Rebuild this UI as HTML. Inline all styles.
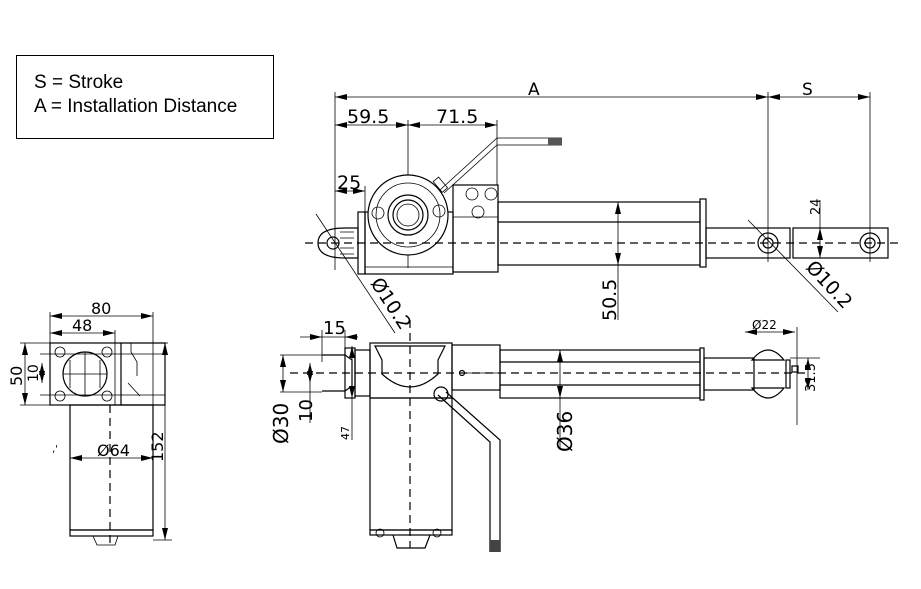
<!DOCTYPE html>
<html><head><style>
body{margin:0;background:#fff;}
svg{display:block;font-family:"DejaVu Sans","Liberation Sans",sans-serif;}
.l{stroke:#000;stroke-width:1.2;fill:none}
.t{stroke:#000;stroke-width:0.8;fill:none}
.d{stroke:#000;stroke-width:1.2;stroke-dasharray:8,5;fill:none}
.w{stroke:#000;stroke-width:1.2;fill:#fff}
text{fill:#000}
</style></head><body>
<svg width="921" height="589" viewBox="0 0 921 589">
<defs>
<marker id="a" markerWidth="12" markerHeight="6" refX="12" refY="3" orient="auto-start-reverse" markerUnits="userSpaceOnUse"><path d="M0,0 L12,3 L0,6z" fill="#000"/></marker>
</defs>
<rect x="16.5" y="55.5" width="257" height="83" class="l" style="stroke-width:1"/>
<text x="34" y="88" font-family="Liberation Sans" font-size="19">S = Stroke</text>
<text x="34" y="112" font-family="Liberation Sans" font-size="19">A = Installation Distance</text>

<g font-size="19">
<line x1="335" y1="97" x2="768" y2="97" class="t" marker-start="url(#a)" marker-end="url(#a)"/>
<line x1="768" y1="97" x2="870" y2="97" class="t" marker-start="url(#a)" marker-end="url(#a)"/>
<text x="528" y="95" font-size="17">A</text><text x="802" y="95" font-size="17">S</text>
<line x1="335" y1="92" x2="335" y2="270" class="t"/>
<line x1="768" y1="92" x2="768" y2="262" class="t"/>
<line x1="870" y1="92" x2="870" y2="262" class="t"/>
<line x1="335" y1="125" x2="408" y2="125" class="t" marker-start="url(#a)" marker-end="url(#a)"/>
<line x1="408" y1="125" x2="497" y2="125" class="t" marker-start="url(#a)" marker-end="url(#a)"/>
<text x="347" y="123">59.5</text><text x="436" y="123">71.5</text>
<line x1="408" y1="120" x2="408" y2="268" class="t"/>
<line x1="497" y1="120" x2="497" y2="185" class="t"/>
<line x1="335" y1="191" x2="365" y2="191" class="t" marker-start="url(#a)" marker-end="url(#a)"/>
<text x="337" y="189">25</text>
<line x1="365" y1="186" x2="365" y2="212" class="t"/>
<path d="M440,190 L497,138 L562,138 M444,193 L497,145 L562,145" class="t"/>
<rect x="548" y="138" width="14" height="7" fill="#555"/>
<rect x="358" y="212" width="7" height="62" class="l"/>
<rect x="365" y="212" width="88" height="62" class="l"/>
<line x1="365" y1="267" x2="453" y2="267" class="t"/>
<rect x="453" y="185" width="45" height="87" class="l"/>
<line x1="453" y1="217" x2="498" y2="217" class="t"/>
<circle cx="408" cy="215" r="40" class="w"/>
<circle cx="408" cy="215" r="32" class="t"/>
<circle cx="408" cy="215" r="20" class="l"/>
<circle cx="408" cy="215" r="15" class="l"/>
<circle cx="408" cy="215" r="11" class="t"/>
<circle cx="378" cy="213" r="6" class="t"/><circle cx="439" cy="211" r="6" class="t"/>
<circle cx="472" cy="194" r="6" class="t"/><circle cx="491" cy="194" r="6" class="t"/><circle cx="478" cy="212" r="6" class="t"/>
<rect x="437" y="178" width="7" height="14" class="t" transform="rotate(-40 440 185)"/>
<rect x="498" y="202" width="202" height="63" class="l"/>
<line x1="498" y1="222" x2="700" y2="222" class="l"/>
<rect x="700" y="199" width="6" height="68" class="l"/>
<rect x="706" y="228" width="84" height="30" class="l"/>
<rect x="793" y="228" width="95" height="30" class="l"/>
<circle cx="768" cy="243" r="10" class="l"/><circle cx="768" cy="243" r="5" class="l"/>
<circle cx="870" cy="243" r="10" class="l"/><circle cx="870" cy="243" r="5" class="l"/>
<path d="M345,228 Q318,228 318,243 Q318,258 345,258 L358,258 L358,228z" class="l"/>
<circle cx="333" cy="243" r="6" class="l"/>
<path d="M340,232h14M340,238h14M340,248h14M340,254h14" class="t"/>
<line x1="305" y1="243" x2="900" y2="243" class="d"/>
<line x1="618" y1="202" x2="618" y2="265" class="t" marker-start="url(#a)" marker-end="url(#a)"/>
<line x1="618" y1="265" x2="618" y2="320" class="t"/>
<text x="616" y="321" transform="rotate(-90 616 321)">50.5</text>
<line x1="820" y1="228" x2="820" y2="258" class="t" marker-start="url(#a)" marker-end="url(#a)"/>
<line x1="820" y1="200" x2="820" y2="228" class="t"/>
<text x="820" y="215" font-size="13" transform="rotate(-90 820 215)">24</text>
<line x1="316" y1="214" x2="395" y2="333" class="t"/>
<text x="370" y="283" transform="rotate(57 370 283)">Ø10.2</text>
<line x1="748" y1="220" x2="838" y2="312" class="t"/>
<text x="805" y="268" transform="rotate(47 805 268)">Ø10.2</text>
</g>

<g font-size="18">
<line x1="290" y1="373" x2="810" y2="373" class="d"/>
<line x1="410" y1="320" x2="410" y2="548" class="d"/>
<line x1="300" y1="337" x2="322" y2="337" class="t" marker-end="url(#a)"/>
<line x1="322" y1="337" x2="345" y2="337" class="t"/>
<line x1="345" y1="337" x2="358" y2="337" class="t" marker-start="url(#a)"/>
<text x="323" y="334">15</text>
<line x1="322" y1="330" x2="322" y2="362" class="t"/><line x1="345" y1="330" x2="345" y2="362" class="t"/>
<path d="M322,355 L345,355 L352,360 L352,386 L345,391 L322,391" class="l"/>
<rect x="345" y="348" width="10" height="50" class="l"/>
<rect x="355" y="350" width="15" height="46" class="l"/>
<rect x="370" y="343" width="82" height="55" class="l"/>
<path d="M375,346 L445,346 L438,360 L438,374 Q410,400 382,374 L382,360z" class="l"/>
<rect x="370" y="398" width="82" height="132" class="l"/>
<rect x="370" y="530" width="82" height="5" class="l"/>
<path d="M393,535 L397,548 L425,548 L430,535" class="l"/>
<circle cx="380" cy="533" r="4" class="t"/><circle cx="437" cy="533" r="4" class="t"/>
<rect x="452" y="345" width="48" height="45" class="l"/>
<circle cx="462" cy="373" r="2.5" class="l"/><line x1="465" y1="373" x2="498" y2="373" class="t"/>
<rect x="500" y="350" width="200" height="48" class="l"/>
<line x1="500" y1="362" x2="700" y2="362" class="l"/><line x1="500" y1="385" x2="700" y2="385" class="l"/>
<rect x="700" y="348" width="4" height="52" class="l"/>
<rect x="704" y="358" width="50" height="32" class="l"/>
<path d="M752,360 Q768,340 784,360z M752,388 Q768,408 784,388z" class="l"/>
<rect x="786" y="360" width="4" height="28" class="l"/>
<rect x="792" y="366" width="6" height="6" class="l"/>
<path d="M438,395 L490,442 L490,552 M446,392 L500,440 L500,552" class="l"/>
<circle cx="441" cy="394" r="7" class="l"/>
<rect x="490" y="540" width="10" height="12" fill="#444"/>
<line x1="745" y1="332" x2="795" y2="332" class="t" marker-start="url(#a)" marker-end="url(#a)"/>
<line x1="797" y1="327" x2="797" y2="425" class="t"/>
<text x="752" y="329" font-size="12">Ø22</text>
<line x1="808" y1="358" x2="808" y2="390" class="t" marker-start="url(#a)" marker-end="url(#a)"/>
<line x1="790" y1="358" x2="820" y2="358" class="t"/>
<text x="815" y="392" font-size="13" transform="rotate(-90 815 392)">31.5</text>
<line x1="560" y1="350" x2="560" y2="398" class="t" marker-start="url(#a)" marker-end="url(#a)"/>
<line x1="560" y1="398" x2="560" y2="450" class="t"/>
<text x="572" y="452" font-size="20" transform="rotate(-90 572 452)">Ø36</text>
<line x1="283" y1="355" x2="283" y2="392" class="t" marker-start="url(#a)" marker-end="url(#a)"/>
<line x1="280" y1="355" x2="322" y2="355" class="t"/><line x1="280" y1="392" x2="322" y2="392" class="t"/>
<text x="288" y="444" font-size="20" transform="rotate(-90 288 444)">Ø30</text>
<line x1="310" y1="363" x2="310" y2="383" class="t" marker-start="url(#a)" marker-end="url(#a)"/>
<line x1="310" y1="383" x2="310" y2="423" class="t"/>
<text x="312" y="422" transform="rotate(-90 312 422)">10</text>
<line x1="352" y1="346" x2="352" y2="398" class="t" marker-start="url(#a)" marker-end="url(#a)"/>
<line x1="352" y1="398" x2="352" y2="440" class="t"/>
<text x="349" y="440" font-size="11" transform="rotate(-90 349 440)">47</text>
</g>

<g font-size="16">
<line x1="50" y1="316" x2="153" y2="316" class="t" marker-start="url(#a)" marker-end="url(#a)"/>
<text x="91" y="314">80</text>
<line x1="50" y1="312" x2="50" y2="405" class="t"/><line x1="153" y1="312" x2="153" y2="530" class="t"/>
<line x1="50" y1="333" x2="115" y2="333" class="t" marker-start="url(#a)" marker-end="url(#a)"/>
<text x="72" y="331">48</text>
<line x1="115" y1="330" x2="115" y2="405" class="t"/>
<rect x="50" y="343" width="71" height="62" class="l"/>
<path d="M121,343 L165,343 L165,405 L121,405" class="l"/>
<path d="M131,343 L131,352 L137,362 L137,376 M128,383 L140,396" class="t"/>
<circle cx="85" cy="374" r="22" class="l"/>
<path d="M70,360 L70,388 M100,360 L100,388 M63,374 L107,374 M85,352 L85,396" class="t"/>
<circle cx="60" cy="352" r="5" class="t"/><circle cx="107" cy="352" r="5" class="t"/>
<circle cx="60" cy="396" r="5" class="t"/><circle cx="107" cy="396" r="5" class="t"/>
<line x1="40" y1="354" x2="165" y2="354" class="t"/><line x1="40" y1="395" x2="165" y2="395" class="t"/>
<line x1="25" y1="343" x2="25" y2="405" class="t" marker-start="url(#a)" marker-end="url(#a)"/>
<line x1="20" y1="343" x2="50" y2="343" class="t"/><line x1="20" y1="405" x2="50" y2="405" class="t"/>
<text x="22" y="386" transform="rotate(-90 22 386)">50</text>
<line x1="42" y1="363" x2="42" y2="383" class="t" marker-start="url(#a)" marker-end="url(#a)"/>
<text x="38" y="382" font-size="14" transform="rotate(-90 38 382)">10</text>
<rect x="70" y="405" width="83" height="125" class="l"/>
<rect x="70" y="530" width="83" height="6" class="l"/>
<path d="M93,536 L97,545 L115,545 L118,536" class="t"/>
<line x1="110" y1="405" x2="110" y2="548" class="d"/>
<line x1="70" y1="458" x2="153" y2="458" class="t" marker-start="url(#a)" marker-end="url(#a)"/>
<text x="97" y="456">Ø64</text>
<line x1="160" y1="343" x2="168" y2="343" class="t"/><line x1="153" y1="540" x2="172" y2="540" class="t"/>
<line x1="165" y1="343" x2="165" y2="540" class="t" marker-start="url(#a)" marker-end="url(#a)"/>
<text x="163" y="462" transform="rotate(-90 163 462)">152</text>
<text x="52" y="452" font-size="10">,'</text>
</g>
</svg>
</body></html>
